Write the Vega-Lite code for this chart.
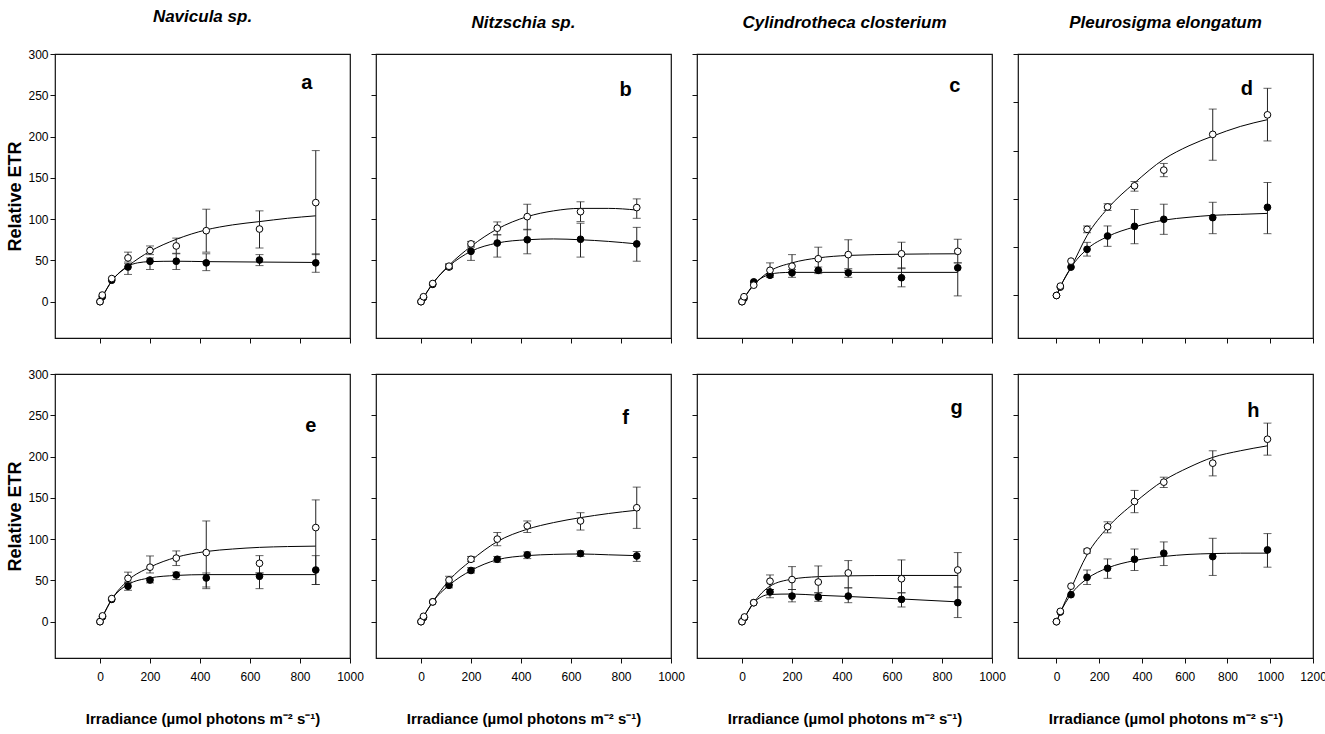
{
  "$schema": "https://vega.github.io/schema/vega-lite/v6.json",
  "padding": {"left": 6, "top": 7, "right": 2, "bottom": 2},
  "datasets": {
    "pts": [
      {"p":"a","s":"open","x":0,"y":0},{"p":"a","s":"open","x":9,"y":8},{"p":"a","s":"open","x":47,"y":28},{"p":"a","s":"open","x":112,"y":53,"lo":48,"hi":60},{"p":"a","s":"open","x":200,"y":62,"lo":57,"hi":67.5},{"p":"a","s":"open","x":305,"y":67.5,"lo":58.6,"hi":77},{"p":"a","s":"open","x":425,"y":86,"lo":60,"hi":112},{"p":"a","s":"open","x":638,"y":88,"lo":65,"hi":110},{"p":"a","s":"open","x":863,"y":120,"lo":57,"hi":183},
      {"p":"a","s":"filled","x":0,"y":0},{"p":"a","s":"filled","x":9,"y":6},{"p":"a","s":"filled","x":47,"y":26},{"p":"a","s":"filled","x":112,"y":42,"lo":33,"hi":46},{"p":"a","s":"filled","x":200,"y":49,"lo":39,"hi":53},{"p":"a","s":"filled","x":305,"y":49,"lo":39,"hi":58},{"p":"a","s":"filled","x":425,"y":47,"lo":37.6,"hi":58},{"p":"a","s":"filled","x":638,"y":50.5,"lo":43.7,"hi":57},{"p":"a","s":"filled","x":863,"y":47,"lo":35.6,"hi":58},
      {"p":"b","s":"open","x":0,"y":0},{"p":"b","s":"open","x":10,"y":6},{"p":"b","s":"open","x":47,"y":22},{"p":"b","s":"open","x":112,"y":43,"lo":40,"hi":46},{"p":"b","s":"open","x":200,"y":70,"lo":67.5,"hi":73},{"p":"b","s":"open","x":305,"y":89,"lo":81,"hi":96.6},{"p":"b","s":"open","x":425,"y":103,"lo":87,"hi":118},{"p":"b","s":"open","x":638,"y":109,"lo":97,"hi":121},{"p":"b","s":"open","x":863,"y":114,"lo":101,"hi":124.5},
      {"p":"b","s":"filled","x":0,"y":0},{"p":"b","s":"filled","x":10,"y":5},{"p":"b","s":"filled","x":47,"y":21},{"p":"b","s":"filled","x":112,"y":42,"lo":40,"hi":45},{"p":"b","s":"filled","x":200,"y":61,"lo":50,"hi":66},{"p":"b","s":"filled","x":305,"y":71,"lo":54,"hi":81},{"p":"b","s":"filled","x":425,"y":75,"lo":58,"hi":87.7},{"p":"b","s":"filled","x":638,"y":75.6,"lo":54,"hi":95},{"p":"b","s":"filled","x":863,"y":70,"lo":49,"hi":90},
      {"p":"c","s":"open","x":0,"y":0},{"p":"c","s":"open","x":8,"y":6},{"p":"c","s":"open","x":47,"y":20},{"p":"c","s":"open","x":112,"y":38,"lo":34,"hi":47},{"p":"c","s":"open","x":200,"y":43,"lo":36,"hi":57},{"p":"c","s":"open","x":305,"y":52,"lo":38,"hi":66},{"p":"c","s":"open","x":425,"y":57,"lo":40,"hi":75},{"p":"c","s":"open","x":638,"y":58,"lo":40,"hi":72},{"p":"c","s":"open","x":863,"y":61,"lo":47,"hi":75.6},
      {"p":"c","s":"filled","x":0,"y":0},{"p":"c","s":"filled","x":8,"y":4},{"p":"c","s":"filled","x":47,"y":24},{"p":"c","s":"filled","x":112,"y":32,"lo":29.5,"hi":34},{"p":"c","s":"filled","x":200,"y":35,"lo":29.5,"hi":39},{"p":"c","s":"filled","x":305,"y":38,"lo":34,"hi":42},{"p":"c","s":"filled","x":425,"y":35,"lo":29.5,"hi":38},{"p":"c","s":"filled","x":638,"y":29,"lo":18,"hi":41},{"p":"c","s":"filled","x":863,"y":41,"lo":7,"hi":47},
      {"p":"d","s":"open","x":0,"y":0},{"p":"d","s":"open","x":18,"y":9.7},{"p":"d","s":"open","x":68,"y":35.6},{"p":"d","s":"open","x":143,"y":68.5,"lo":65,"hi":72},{"p":"d","s":"open","x":239,"y":91.7,"lo":88,"hi":95},{"p":"d","s":"open","x":365,"y":113.5,"lo":108,"hi":118},{"p":"d","s":"open","x":502,"y":129.8,"lo":123,"hi":136.7},{"p":"d","s":"open","x":731,"y":166.8,"lo":140,"hi":193},{"p":"d","s":"open","x":987,"y":187,"lo":160,"hi":214.5},
      {"p":"d","s":"filled","x":0,"y":0},{"p":"d","s":"filled","x":18,"y":8.7},{"p":"d","s":"filled","x":68,"y":29.4},{"p":"d","s":"filled","x":143,"y":47.8,"lo":40.8,"hi":55},{"p":"d","s":"filled","x":239,"y":61.6,"lo":50.9,"hi":72},{"p":"d","s":"filled","x":365,"y":71.6,"lo":53.6,"hi":89},{"p":"d","s":"filled","x":502,"y":78.9,"lo":63.3,"hi":94.5},{"p":"d","s":"filled","x":731,"y":80.6,"lo":64,"hi":96.5},{"p":"d","s":"filled","x":987,"y":91.3,"lo":64,"hi":117},
      {"p":"e","s":"open","x":0,"y":0},{"p":"e","s":"open","x":10,"y":7},{"p":"e","s":"open","x":47,"y":28},{"p":"e","s":"open","x":112,"y":52.5,"lo":48,"hi":60},{"p":"e","s":"open","x":200,"y":66,"lo":59,"hi":79.6},{"p":"e","s":"open","x":305,"y":77,"lo":68,"hi":85.7},{"p":"e","s":"open","x":425,"y":83.7,"lo":40,"hi":122},{"p":"e","s":"open","x":638,"y":70.7,"lo":59,"hi":80},{"p":"e","s":"open","x":863,"y":114,"lo":45,"hi":147.5},
      {"p":"e","s":"filled","x":0,"y":0},{"p":"e","s":"filled","x":10,"y":6},{"p":"e","s":"filled","x":47,"y":27},{"p":"e","s":"filled","x":112,"y":43,"lo":38,"hi":47},{"p":"e","s":"filled","x":200,"y":50.5,"lo":47,"hi":53},{"p":"e","s":"filled","x":305,"y":56.6,"lo":51,"hi":60},{"p":"e","s":"filled","x":425,"y":53,"lo":42,"hi":59},{"p":"e","s":"filled","x":638,"y":55,"lo":40,"hi":59},{"p":"e","s":"filled","x":863,"y":62.6,"lo":45,"hi":80},
      {"p":"f","s":"open","x":0,"y":0},{"p":"f","s":"open","x":10,"y":6.5},{"p":"f","s":"open","x":47,"y":24},{"p":"f","s":"open","x":112,"y":50.5,"lo":45,"hi":55},{"p":"f","s":"open","x":200,"y":75.6,"lo":73,"hi":79},{"p":"f","s":"open","x":305,"y":100,"lo":92,"hi":108},{"p":"f","s":"open","x":425,"y":116,"lo":108,"hi":122},{"p":"f","s":"open","x":638,"y":122,"lo":111,"hi":132},{"p":"f","s":"open","x":863,"y":138,"lo":113,"hi":163},
      {"p":"f","s":"filled","x":0,"y":0},{"p":"f","s":"filled","x":10,"y":5},{"p":"f","s":"filled","x":47,"y":24},{"p":"f","s":"filled","x":112,"y":44,"lo":41,"hi":47},{"p":"f","s":"filled","x":200,"y":62,"lo":59,"hi":65.5},{"p":"f","s":"filled","x":305,"y":75.6,"lo":72,"hi":79},{"p":"f","s":"filled","x":425,"y":81,"lo":76.4,"hi":84.5},{"p":"f","s":"filled","x":638,"y":82.5,"lo":79,"hi":85.7},{"p":"f","s":"filled","x":863,"y":79.6,"lo":73,"hi":85},
      {"p":"g","s":"open","x":0,"y":0},{"p":"g","s":"open","x":10,"y":5.7},{"p":"g","s":"open","x":47,"y":23},{"p":"g","s":"open","x":112,"y":49,"lo":39,"hi":56.6},{"p":"g","s":"open","x":200,"y":51,"lo":39,"hi":66.7},{"p":"g","s":"open","x":305,"y":48,"lo":35,"hi":67.5},{"p":"g","s":"open","x":425,"y":59,"lo":41,"hi":74},{"p":"g","s":"open","x":638,"y":52,"lo":35,"hi":74.8},{"p":"g","s":"open","x":863,"y":62.6,"lo":42,"hi":83.7},
      {"p":"g","s":"filled","x":0,"y":0},{"p":"g","s":"filled","x":10,"y":5},{"p":"g","s":"filled","x":47,"y":23},{"p":"g","s":"filled","x":112,"y":36,"lo":29,"hi":39},{"p":"g","s":"filled","x":200,"y":31,"lo":24,"hi":39},{"p":"g","s":"filled","x":305,"y":30,"lo":24.6,"hi":35},{"p":"g","s":"filled","x":425,"y":31,"lo":23,"hi":41},{"p":"g","s":"filled","x":638,"y":27,"lo":17.8,"hi":35},{"p":"g","s":"filled","x":863,"y":23,"lo":5,"hi":42},
      {"p":"h","s":"open","x":0,"y":0},{"p":"h","s":"open","x":18,"y":12.5},{"p":"h","s":"open","x":68,"y":43},{"p":"h","s":"open","x":143,"y":85.6,"lo":83,"hi":88},{"p":"h","s":"open","x":239,"y":115,"lo":107.6,"hi":121},{"p":"h","s":"open","x":365,"y":145.5,"lo":132,"hi":159},{"p":"h","s":"open","x":502,"y":169,"lo":162.5,"hi":175},{"p":"h","s":"open","x":731,"y":192,"lo":176.6,"hi":207},{"p":"h","s":"open","x":987,"y":221,"lo":201.7,"hi":240.5},
      {"p":"h","s":"filled","x":0,"y":0},{"p":"h","s":"filled","x":18,"y":11.7},{"p":"h","s":"filled","x":68,"y":32.7},{"p":"h","s":"filled","x":143,"y":53.8,"lo":45,"hi":62.6},{"p":"h","s":"filled","x":239,"y":64.7,"lo":52.5,"hi":76},{"p":"h","s":"filled","x":365,"y":75.6,"lo":62,"hi":88},{"p":"h","s":"filled","x":502,"y":82.9,"lo":68,"hi":96.6},{"p":"h","s":"filled","x":731,"y":78.8,"lo":56,"hi":101},{"p":"h","s":"filled","x":987,"y":86.9,"lo":66,"hi":106.7}
    ],
    "fit": [
      {"p":"a","s":"open","x":0,"y":0},{"p":"a","s":"open","x":10,"y":6},{"p":"a","s":"open","x":47,"y":25},{"p":"a","s":"open","x":112,"y":43},{"p":"a","s":"open","x":200,"y":61},{"p":"a","s":"open","x":305,"y":75.5},{"p":"a","s":"open","x":425,"y":87},{"p":"a","s":"open","x":530,"y":93},{"p":"a","s":"open","x":638,"y":97},{"p":"a","s":"open","x":750,"y":101},{"p":"a","s":"open","x":863,"y":104},
      {"p":"a","s":"filled","x":0,"y":0},{"p":"a","s":"filled","x":10,"y":6},{"p":"a","s":"filled","x":47,"y":25},{"p":"a","s":"filled","x":80,"y":36},{"p":"a","s":"filled","x":112,"y":43},{"p":"a","s":"filled","x":150,"y":47},{"p":"a","s":"filled","x":200,"y":48.5},{"p":"a","s":"filled","x":305,"y":49},{"p":"a","s":"filled","x":425,"y":48.5},{"p":"a","s":"filled","x":638,"y":48},{"p":"a","s":"filled","x":863,"y":47.5},
      {"p":"b","s":"open","x":0,"y":0},{"p":"b","s":"open","x":10,"y":5},{"p":"b","s":"open","x":47,"y":22},{"p":"b","s":"open","x":112,"y":44},{"p":"b","s":"open","x":200,"y":67},{"p":"b","s":"open","x":305,"y":88},{"p":"b","s":"open","x":425,"y":103},{"p":"b","s":"open","x":530,"y":110},{"p":"b","s":"open","x":638,"y":113},{"p":"b","s":"open","x":750,"y":113},{"p":"b","s":"open","x":863,"y":111},
      {"p":"b","s":"filled","x":0,"y":0},{"p":"b","s":"filled","x":10,"y":5},{"p":"b","s":"filled","x":47,"y":22},{"p":"b","s":"filled","x":112,"y":43},{"p":"b","s":"filled","x":200,"y":61},{"p":"b","s":"filled","x":305,"y":71},{"p":"b","s":"filled","x":425,"y":75},{"p":"b","s":"filled","x":530,"y":76},{"p":"b","s":"filled","x":638,"y":75},{"p":"b","s":"filled","x":750,"y":73},{"p":"b","s":"filled","x":863,"y":70},
      {"p":"c","s":"open","x":0,"y":0},{"p":"c","s":"open","x":10,"y":5},{"p":"c","s":"open","x":47,"y":20},{"p":"c","s":"open","x":112,"y":37},{"p":"c","s":"open","x":200,"y":47},{"p":"c","s":"open","x":305,"y":53},{"p":"c","s":"open","x":425,"y":56},{"p":"c","s":"open","x":638,"y":57.5},{"p":"c","s":"open","x":863,"y":58},
      {"p":"c","s":"filled","x":0,"y":0},{"p":"c","s":"filled","x":10,"y":5},{"p":"c","s":"filled","x":47,"y":21},{"p":"c","s":"filled","x":80,"y":29},{"p":"c","s":"filled","x":112,"y":33},{"p":"c","s":"filled","x":150,"y":35},{"p":"c","s":"filled","x":200,"y":35.5},{"p":"c","s":"filled","x":305,"y":35.5},{"p":"c","s":"filled","x":425,"y":35.5},{"p":"c","s":"filled","x":638,"y":35.5},{"p":"c","s":"filled","x":863,"y":35.5},
      {"p":"d","s":"open","x":0,"y":0},{"p":"d","s":"open","x":18,"y":9},{"p":"d","s":"open","x":68,"y":29},{"p":"d","s":"open","x":143,"y":62},{"p":"d","s":"open","x":239,"y":90},{"p":"d","s":"open","x":365,"y":116.5},{"p":"d","s":"open","x":502,"y":141},{"p":"d","s":"open","x":620,"y":155},{"p":"d","s":"open","x":731,"y":165},{"p":"d","s":"open","x":860,"y":175},{"p":"d","s":"open","x":987,"y":182},
      {"p":"d","s":"filled","x":0,"y":0},{"p":"d","s":"filled","x":18,"y":9},{"p":"d","s":"filled","x":68,"y":29},{"p":"d","s":"filled","x":143,"y":48},{"p":"d","s":"filled","x":239,"y":61},{"p":"d","s":"filled","x":365,"y":71},{"p":"d","s":"filled","x":502,"y":78},{"p":"d","s":"filled","x":620,"y":81},{"p":"d","s":"filled","x":731,"y":83},{"p":"d","s":"filled","x":860,"y":84},{"p":"d","s":"filled","x":987,"y":85},
      {"p":"e","s":"open","x":0,"y":0},{"p":"e","s":"open","x":10,"y":6},{"p":"e","s":"open","x":47,"y":27},{"p":"e","s":"open","x":112,"y":50},{"p":"e","s":"open","x":200,"y":66},{"p":"e","s":"open","x":305,"y":78},{"p":"e","s":"open","x":425,"y":85},{"p":"e","s":"open","x":530,"y":88},{"p":"e","s":"open","x":638,"y":90},{"p":"e","s":"open","x":750,"y":91},{"p":"e","s":"open","x":863,"y":91.5},
      {"p":"e","s":"filled","x":0,"y":0},{"p":"e","s":"filled","x":10,"y":6},{"p":"e","s":"filled","x":47,"y":27},{"p":"e","s":"filled","x":112,"y":45},{"p":"e","s":"filled","x":200,"y":53},{"p":"e","s":"filled","x":305,"y":56},{"p":"e","s":"filled","x":425,"y":57},{"p":"e","s":"filled","x":638,"y":57},{"p":"e","s":"filled","x":863,"y":57},
      {"p":"f","s":"open","x":0,"y":0},{"p":"f","s":"open","x":10,"y":6},{"p":"f","s":"open","x":47,"y":24},{"p":"f","s":"open","x":112,"y":50},{"p":"f","s":"open","x":200,"y":74},{"p":"f","s":"open","x":305,"y":97},{"p":"f","s":"open","x":425,"y":112},{"p":"f","s":"open","x":530,"y":120},{"p":"f","s":"open","x":638,"y":126},{"p":"f","s":"open","x":750,"y":131},{"p":"f","s":"open","x":863,"y":135},
      {"p":"f","s":"filled","x":0,"y":0},{"p":"f","s":"filled","x":10,"y":6},{"p":"f","s":"filled","x":47,"y":24},{"p":"f","s":"filled","x":112,"y":44},{"p":"f","s":"filled","x":200,"y":62},{"p":"f","s":"filled","x":305,"y":75},{"p":"f","s":"filled","x":425,"y":80},{"p":"f","s":"filled","x":530,"y":81.5},{"p":"f","s":"filled","x":638,"y":82},{"p":"f","s":"filled","x":750,"y":81},{"p":"f","s":"filled","x":863,"y":80},
      {"p":"g","s":"open","x":0,"y":0},{"p":"g","s":"open","x":10,"y":5},{"p":"g","s":"open","x":47,"y":23},{"p":"g","s":"open","x":112,"y":43},{"p":"g","s":"open","x":200,"y":51.5},{"p":"g","s":"open","x":305,"y":54.5},{"p":"g","s":"open","x":425,"y":55.5},{"p":"g","s":"open","x":638,"y":56},{"p":"g","s":"open","x":863,"y":56},
      {"p":"g","s":"filled","x":0,"y":0},{"p":"g","s":"filled","x":10,"y":5},{"p":"g","s":"filled","x":47,"y":23},{"p":"g","s":"filled","x":112,"y":33},{"p":"g","s":"filled","x":200,"y":33.5},{"p":"g","s":"filled","x":305,"y":32},{"p":"g","s":"filled","x":425,"y":30.5},{"p":"g","s":"filled","x":638,"y":27.5},{"p":"g","s":"filled","x":863,"y":24},
      {"p":"h","s":"open","x":0,"y":0},{"p":"h","s":"open","x":18,"y":11},{"p":"h","s":"open","x":68,"y":40},{"p":"h","s":"open","x":143,"y":81},{"p":"h","s":"open","x":239,"y":114},{"p":"h","s":"open","x":365,"y":144},{"p":"h","s":"open","x":502,"y":171},{"p":"h","s":"open","x":620,"y":187},{"p":"h","s":"open","x":731,"y":199},{"p":"h","s":"open","x":860,"y":207},{"p":"h","s":"open","x":987,"y":213},
      {"p":"h","s":"filled","x":0,"y":0},{"p":"h","s":"filled","x":18,"y":11},{"p":"h","s":"filled","x":68,"y":33},{"p":"h","s":"filled","x":143,"y":52},{"p":"h","s":"filled","x":239,"y":65},{"p":"h","s":"filled","x":365,"y":74},{"p":"h","s":"filled","x":502,"y":79},{"p":"h","s":"filled","x":620,"y":81.5},{"p":"h","s":"filled","x":731,"y":82.5},{"p":"h","s":"filled","x":860,"y":83},{"p":"h","s":"filled","x":987,"y":83}
    ],
    "lab": [
      {"p":"a","x":827,"y":265,"t":"a"},{"p":"b","x":818,"y":257,"t":"b"},{"p":"c","x":851,"y":261,"t":"c"},{"p":"d","x":891,"y":214,"t":"d"},
      {"p":"e","x":843,"y":237,"t":"e"},{"p":"f","x":818,"y":247,"t":"f"},{"p":"g","x":858,"y":259,"t":"g"},{"p":"h","x":921,"y":255,"t":"h"}
    ]
  },
  "columns": 4,
  "spacing": {"row": 36, "column": 26},
  "bounds": "flush",
  "concat": [
    {
      "width": 295, "height": 284, "title": "Navicula sp.",
      "layer": [
        {"data": {"name": "fit"}, "transform": [{"filter": "datum.p == 'a'"}],
         "mark": {"type": "line", "interpolate": "monotone", "color": "black", "strokeWidth": 1},
         "encoding": {
           "x": {"field": "x", "type": "quantitative", "scale": {"domain": [-180, 1000], "nice": false, "zero": false}, "axis": {"values": [0,200,400,600,800,1000], "labels": false, "title": null}},
           "y": {"field": "y", "type": "quantitative", "scale": {"domain": [-44, 300], "nice": false, "zero": false}, "axis": {"values": [0,50,100,150,200,250,300], "title": "Relative ETR"}},
           "detail": {"field": "s"}}},
        {"data": {"name": "pts"}, "transform": [{"filter": "datum.p == 'a' && datum.lo != null"}],
         "mark": {"type": "errorbar", "ticks": true, "color": "#222", "thickness": 1, "size": 8},
         "encoding": {"x": {"field": "x", "type": "quantitative"}, "y": {"field": "lo", "type": "quantitative", "title": "Relative ETR"}, "y2": {"field": "hi"}}},
        {"data": {"name": "pts"}, "transform": [{"filter": "datum.p == 'a'"}],
         "mark": {"type": "point", "shape": "circle", "filled": true, "size": 45, "stroke": "black", "strokeWidth": 1, "opacity": 1},
         "encoding": {"x": {"field": "x", "type": "quantitative"}, "y": {"field": "y", "type": "quantitative", "title": "Relative ETR"},
           "order": {"field": "s", "type": "ordinal", "sort": "ascending"},
           "fill": {"field": "s", "type": "nominal", "scale": {"domain": ["open", "filled"], "range": ["white", "black"]}, "legend": null}}},
        {"data": {"name": "lab"}, "transform": [{"filter": "datum.p == 'a'"}],
         "mark": {"type": "text", "fontSize": 20, "fontWeight": "bold", "font": "Liberation Sans", "color": "black", "baseline": "middle", "align": "center"},
         "encoding": {"x": {"field": "x", "type": "quantitative"}, "y": {"field": "y", "type": "quantitative", "title": "Relative ETR"}, "text": {"field": "t"}}}
      ]
    },
    {
      "width": 295, "height": 284, "title": "Nitzschia sp.",
      "layer": [
        {"data": {"name": "fit"}, "transform": [{"filter": "datum.p == 'b'"}],
         "mark": {"type": "line", "interpolate": "monotone", "color": "black", "strokeWidth": 1},
         "encoding": {
           "x": {"field": "x", "type": "quantitative", "scale": {"domain": [-180, 1000], "nice": false, "zero": false}, "axis": {"values": [0,200,400,600,800,1000], "labels": false, "title": null}},
           "y": {"field": "y", "type": "quantitative", "scale": {"domain": [-44, 300], "nice": false, "zero": false}, "axis": {"values": [0,50,100,150,200,250,300], "labels": false, "title": null}},
           "detail": {"field": "s"}}},
        {"data": {"name": "pts"}, "transform": [{"filter": "datum.p == 'b' && datum.lo != null"}],
         "mark": {"type": "errorbar", "ticks": true, "color": "#222", "thickness": 1, "size": 8},
         "encoding": {"x": {"field": "x", "type": "quantitative"}, "y": {"field": "lo", "type": "quantitative", "title": null}, "y2": {"field": "hi"}}},
        {"data": {"name": "pts"}, "transform": [{"filter": "datum.p == 'b'"}],
         "mark": {"type": "point", "shape": "circle", "filled": true, "size": 45, "stroke": "black", "strokeWidth": 1, "opacity": 1},
         "encoding": {"x": {"field": "x", "type": "quantitative"}, "y": {"field": "y", "type": "quantitative", "title": null},
           "order": {"field": "s", "type": "ordinal", "sort": "ascending"},
           "fill": {"field": "s", "type": "nominal", "scale": {"domain": ["open", "filled"], "range": ["white", "black"]}, "legend": null}}},
        {"data": {"name": "lab"}, "transform": [{"filter": "datum.p == 'b'"}],
         "mark": {"type": "text", "fontSize": 20, "fontWeight": "bold", "font": "Liberation Sans", "color": "black", "baseline": "middle", "align": "center"},
         "encoding": {"x": {"field": "x", "type": "quantitative"}, "y": {"field": "y", "type": "quantitative", "title": null}, "text": {"field": "t"}}}
      ]
    },
    {
      "width": 295, "height": 284, "title": "Cylindrotheca closterium",
      "layer": [
        {"data": {"name": "fit"}, "transform": [{"filter": "datum.p == 'c'"}],
         "mark": {"type": "line", "interpolate": "monotone", "color": "black", "strokeWidth": 1},
         "encoding": {
           "x": {"field": "x", "type": "quantitative", "scale": {"domain": [-180, 1000], "nice": false, "zero": false}, "axis": {"values": [0,200,400,600,800,1000], "labels": false, "title": null}},
           "y": {"field": "y", "type": "quantitative", "scale": {"domain": [-44, 300], "nice": false, "zero": false}, "axis": {"values": [0,50,100,150,200,250,300], "labels": false, "title": null}},
           "detail": {"field": "s"}}},
        {"data": {"name": "pts"}, "transform": [{"filter": "datum.p == 'c' && datum.lo != null"}],
         "mark": {"type": "errorbar", "ticks": true, "color": "#222", "thickness": 1, "size": 8},
         "encoding": {"x": {"field": "x", "type": "quantitative"}, "y": {"field": "lo", "type": "quantitative", "title": null}, "y2": {"field": "hi"}}},
        {"data": {"name": "pts"}, "transform": [{"filter": "datum.p == 'c'"}],
         "mark": {"type": "point", "shape": "circle", "filled": true, "size": 45, "stroke": "black", "strokeWidth": 1, "opacity": 1},
         "encoding": {"x": {"field": "x", "type": "quantitative"}, "y": {"field": "y", "type": "quantitative", "title": null},
           "order": {"field": "s", "type": "ordinal", "sort": "ascending"},
           "fill": {"field": "s", "type": "nominal", "scale": {"domain": ["open", "filled"], "range": ["white", "black"]}, "legend": null}}},
        {"data": {"name": "lab"}, "transform": [{"filter": "datum.p == 'c'"}],
         "mark": {"type": "text", "fontSize": 20, "fontWeight": "bold", "font": "Liberation Sans", "color": "black", "baseline": "middle", "align": "center"},
         "encoding": {"x": {"field": "x", "type": "quantitative"}, "y": {"field": "y", "type": "quantitative", "title": null}, "text": {"field": "t"}}}
      ]
    },
    {
      "width": 295, "height": 284, "title": "Pleurosigma elongatum",
      "layer": [
        {"data": {"name": "fit"}, "transform": [{"filter": "datum.p == 'd'"}],
         "mark": {"type": "line", "interpolate": "monotone", "color": "black", "strokeWidth": 1},
         "encoding": {
           "x": {"field": "x", "type": "quantitative", "scale": {"domain": [-180, 1200], "nice": false, "zero": false}, "axis": {"values": [0,200,400,600,800,1000,1200], "labels": false, "title": null}},
           "y": {"field": "y", "type": "quantitative", "scale": {"domain": [-44, 250], "nice": false, "zero": false}, "axis": {"values": [0,50,100,150,200,250], "labels": false, "title": null}},
           "detail": {"field": "s"}}},
        {"data": {"name": "pts"}, "transform": [{"filter": "datum.p == 'd' && datum.lo != null"}],
         "mark": {"type": "errorbar", "ticks": true, "color": "#222", "thickness": 1, "size": 8},
         "encoding": {"x": {"field": "x", "type": "quantitative"}, "y": {"field": "lo", "type": "quantitative", "title": null}, "y2": {"field": "hi"}}},
        {"data": {"name": "pts"}, "transform": [{"filter": "datum.p == 'd'"}],
         "mark": {"type": "point", "shape": "circle", "filled": true, "size": 45, "stroke": "black", "strokeWidth": 1, "opacity": 1},
         "encoding": {"x": {"field": "x", "type": "quantitative"}, "y": {"field": "y", "type": "quantitative", "title": null},
           "order": {"field": "s", "type": "ordinal", "sort": "ascending"},
           "fill": {"field": "s", "type": "nominal", "scale": {"domain": ["open", "filled"], "range": ["white", "black"]}, "legend": null}}},
        {"data": {"name": "lab"}, "transform": [{"filter": "datum.p == 'd'"}],
         "mark": {"type": "text", "fontSize": 20, "fontWeight": "bold", "font": "Liberation Sans", "color": "black", "baseline": "middle", "align": "center"},
         "encoding": {"x": {"field": "x", "type": "quantitative"}, "y": {"field": "y", "type": "quantitative", "title": null}, "text": {"field": "t"}}}
      ]
    },
    {
      "width": 295, "height": 284,
      "layer": [
        {"data": {"name": "fit"}, "transform": [{"filter": "datum.p == 'e'"}],
         "mark": {"type": "line", "interpolate": "monotone", "color": "black", "strokeWidth": 1},
         "encoding": {
           "x": {"field": "x", "type": "quantitative", "scale": {"domain": [-180, 1000], "nice": false, "zero": false}, "axis": {"values": [0,200,400,600,800,1000], "title": "Irradiance (µmol photons m⁻² s⁻¹)"}},
           "y": {"field": "y", "type": "quantitative", "scale": {"domain": [-44, 300], "nice": false, "zero": false}, "axis": {"values": [0,50,100,150,200,250,300], "title": "Relative ETR"}},
           "detail": {"field": "s"}}},
        {"data": {"name": "pts"}, "transform": [{"filter": "datum.p == 'e' && datum.lo != null"}],
         "mark": {"type": "errorbar", "ticks": true, "color": "#222", "thickness": 1, "size": 8},
         "encoding": {"x": {"field": "x", "type": "quantitative", "title": "Irradiance (µmol photons m⁻² s⁻¹)"}, "y": {"field": "lo", "type": "quantitative", "title": "Relative ETR"}, "y2": {"field": "hi"}}},
        {"data": {"name": "pts"}, "transform": [{"filter": "datum.p == 'e'"}],
         "mark": {"type": "point", "shape": "circle", "filled": true, "size": 45, "stroke": "black", "strokeWidth": 1, "opacity": 1},
         "encoding": {"x": {"field": "x", "type": "quantitative", "title": "Irradiance (µmol photons m⁻² s⁻¹)"}, "y": {"field": "y", "type": "quantitative", "title": "Relative ETR"},
           "order": {"field": "s", "type": "ordinal", "sort": "ascending"},
           "fill": {"field": "s", "type": "nominal", "scale": {"domain": ["open", "filled"], "range": ["white", "black"]}, "legend": null}}},
        {"data": {"name": "lab"}, "transform": [{"filter": "datum.p == 'e'"}],
         "mark": {"type": "text", "fontSize": 20, "fontWeight": "bold", "font": "Liberation Sans", "color": "black", "baseline": "middle", "align": "center"},
         "encoding": {"x": {"field": "x", "type": "quantitative", "title": "Irradiance (µmol photons m⁻² s⁻¹)"}, "y": {"field": "y", "type": "quantitative", "title": "Relative ETR"}, "text": {"field": "t"}}}
      ]
    },
    {
      "width": 295, "height": 284,
      "layer": [
        {"data": {"name": "fit"}, "transform": [{"filter": "datum.p == 'f'"}],
         "mark": {"type": "line", "interpolate": "monotone", "color": "black", "strokeWidth": 1},
         "encoding": {
           "x": {"field": "x", "type": "quantitative", "scale": {"domain": [-180, 1000], "nice": false, "zero": false}, "axis": {"values": [0,200,400,600,800,1000], "title": "Irradiance (µmol photons m⁻² s⁻¹)"}},
           "y": {"field": "y", "type": "quantitative", "scale": {"domain": [-44, 300], "nice": false, "zero": false}, "axis": {"values": [0,50,100,150,200,250,300], "labels": false, "title": null}},
           "detail": {"field": "s"}}},
        {"data": {"name": "pts"}, "transform": [{"filter": "datum.p == 'f' && datum.lo != null"}],
         "mark": {"type": "errorbar", "ticks": true, "color": "#222", "thickness": 1, "size": 8},
         "encoding": {"x": {"field": "x", "type": "quantitative", "title": "Irradiance (µmol photons m⁻² s⁻¹)"}, "y": {"field": "lo", "type": "quantitative", "title": null}, "y2": {"field": "hi"}}},
        {"data": {"name": "pts"}, "transform": [{"filter": "datum.p == 'f'"}],
         "mark": {"type": "point", "shape": "circle", "filled": true, "size": 45, "stroke": "black", "strokeWidth": 1, "opacity": 1},
         "encoding": {"x": {"field": "x", "type": "quantitative", "title": "Irradiance (µmol photons m⁻² s⁻¹)"}, "y": {"field": "y", "type": "quantitative", "title": null},
           "order": {"field": "s", "type": "ordinal", "sort": "ascending"},
           "fill": {"field": "s", "type": "nominal", "scale": {"domain": ["open", "filled"], "range": ["white", "black"]}, "legend": null}}},
        {"data": {"name": "lab"}, "transform": [{"filter": "datum.p == 'f'"}],
         "mark": {"type": "text", "fontSize": 20, "fontWeight": "bold", "font": "Liberation Sans", "color": "black", "baseline": "middle", "align": "center"},
         "encoding": {"x": {"field": "x", "type": "quantitative", "title": "Irradiance (µmol photons m⁻² s⁻¹)"}, "y": {"field": "y", "type": "quantitative", "title": null}, "text": {"field": "t"}}}
      ]
    },
    {
      "width": 295, "height": 284,
      "layer": [
        {"data": {"name": "fit"}, "transform": [{"filter": "datum.p == 'g'"}],
         "mark": {"type": "line", "interpolate": "monotone", "color": "black", "strokeWidth": 1},
         "encoding": {
           "x": {"field": "x", "type": "quantitative", "scale": {"domain": [-180, 1000], "nice": false, "zero": false}, "axis": {"values": [0,200,400,600,800,1000], "title": "Irradiance (µmol photons m⁻² s⁻¹)"}},
           "y": {"field": "y", "type": "quantitative", "scale": {"domain": [-44, 300], "nice": false, "zero": false}, "axis": {"values": [0,50,100,150,200,250,300], "labels": false, "title": null}},
           "detail": {"field": "s"}}},
        {"data": {"name": "pts"}, "transform": [{"filter": "datum.p == 'g' && datum.lo != null"}],
         "mark": {"type": "errorbar", "ticks": true, "color": "#222", "thickness": 1, "size": 8},
         "encoding": {"x": {"field": "x", "type": "quantitative", "title": "Irradiance (µmol photons m⁻² s⁻¹)"}, "y": {"field": "lo", "type": "quantitative", "title": null}, "y2": {"field": "hi"}}},
        {"data": {"name": "pts"}, "transform": [{"filter": "datum.p == 'g'"}],
         "mark": {"type": "point", "shape": "circle", "filled": true, "size": 45, "stroke": "black", "strokeWidth": 1, "opacity": 1},
         "encoding": {"x": {"field": "x", "type": "quantitative", "title": "Irradiance (µmol photons m⁻² s⁻¹)"}, "y": {"field": "y", "type": "quantitative", "title": null},
           "order": {"field": "s", "type": "ordinal", "sort": "ascending"},
           "fill": {"field": "s", "type": "nominal", "scale": {"domain": ["open", "filled"], "range": ["white", "black"]}, "legend": null}}},
        {"data": {"name": "lab"}, "transform": [{"filter": "datum.p == 'g'"}],
         "mark": {"type": "text", "fontSize": 20, "fontWeight": "bold", "font": "Liberation Sans", "color": "black", "baseline": "middle", "align": "center"},
         "encoding": {"x": {"field": "x", "type": "quantitative", "title": "Irradiance (µmol photons m⁻² s⁻¹)"}, "y": {"field": "y", "type": "quantitative", "title": null}, "text": {"field": "t"}}}
      ]
    },
    {
      "width": 295, "height": 284,
      "layer": [
        {"data": {"name": "fit"}, "transform": [{"filter": "datum.p == 'h'"}],
         "mark": {"type": "line", "interpolate": "monotone", "color": "black", "strokeWidth": 1},
         "encoding": {
           "x": {"field": "x", "type": "quantitative", "scale": {"domain": [-180, 1200], "nice": false, "zero": false}, "axis": {"values": [0,200,400,600,800,1000,1200], "title": "Irradiance (µmol photons m⁻² s⁻¹)"}},
           "y": {"field": "y", "type": "quantitative", "scale": {"domain": [-44, 300], "nice": false, "zero": false}, "axis": {"values": [0,50,100,150,200,250,300], "labels": false, "title": null}},
           "detail": {"field": "s"}}},
        {"data": {"name": "pts"}, "transform": [{"filter": "datum.p == 'h' && datum.lo != null"}],
         "mark": {"type": "errorbar", "ticks": true, "color": "#222", "thickness": 1, "size": 8},
         "encoding": {"x": {"field": "x", "type": "quantitative", "title": "Irradiance (µmol photons m⁻² s⁻¹)"}, "y": {"field": "lo", "type": "quantitative", "title": null}, "y2": {"field": "hi"}}},
        {"data": {"name": "pts"}, "transform": [{"filter": "datum.p == 'h'"}],
         "mark": {"type": "point", "shape": "circle", "filled": true, "size": 45, "stroke": "black", "strokeWidth": 1, "opacity": 1},
         "encoding": {"x": {"field": "x", "type": "quantitative", "title": "Irradiance (µmol photons m⁻² s⁻¹)"}, "y": {"field": "y", "type": "quantitative", "title": null},
           "order": {"field": "s", "type": "ordinal", "sort": "ascending"},
           "fill": {"field": "s", "type": "nominal", "scale": {"domain": ["open", "filled"], "range": ["white", "black"]}, "legend": null}}},
        {"data": {"name": "lab"}, "transform": [{"filter": "datum.p == 'h'"}],
         "mark": {"type": "text", "fontSize": 20, "fontWeight": "bold", "font": "Liberation Sans", "color": "black", "baseline": "middle", "align": "center"},
         "encoding": {"x": {"field": "x", "type": "quantitative", "title": "Irradiance (µmol photons m⁻² s⁻¹)"}, "y": {"field": "y", "type": "quantitative", "title": null}, "text": {"field": "t"}}}
      ]
    }
  ],
  "config": {
    "background": "white",
    "numberFormat": "d",
    "view": {"stroke": "#111", "strokeWidth": 1.2},
    "axis": {"domain": false, "grid": false, "ticks": true, "tickColor": "#111", "tickSize": 5, "tickWidth": 1,
             "labelFont": "Liberation Sans", "labelFontSize": 12, "labelColor": "black", "labelPadding": 2,
             "labelOverlap": false, "labelFlush": false,
             "titleFont": "Liberation Sans", "titleFontWeight": "bold", "titleColor": "black"},
    "axisY": {"titleFontSize": 18, "titlePadding": 3},
    "axisX": {"titleFontSize": 15, "titlePadding": 29, "labelPadding": 8},
    "title": {"font": "Liberation Sans", "fontSize": 17, "fontWeight": "bold", "fontStyle": "italic", "color": "black", "anchor": "middle", "offset": 22}
  }
}
